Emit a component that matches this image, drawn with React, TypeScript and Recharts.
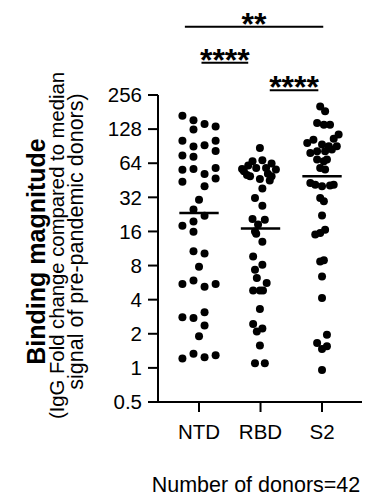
import React from 'react';
import { ScatterChart, Scatter, XAxis, YAxis, ReferenceLine } from 'recharts';

const categories = ['NTD', 'RBD', 'S2'];
const yTicks = [0.5, 1, 2, 4, 8, 16, 32, 64, 128, 256];

// [jitter offset, value]
const ntdPoints: [number, number][] = [
  [-0.27, 168], [-0.09, 153], [0.09, 142], [0.27, 135], [-0.09, 127], [-0.27, 101], [0.27, 101],
  [-0.09, 90], [0.09, 92], [0.27, 82], [-0.27, 75], [-0.09, 73], [-0.27, 56], [-0.09, 57],
  [0.27, 58], [0.09, 51.5], [0.27, 47], [-0.27, 44], [0.09, 40], [0, 30.5], [-0.09, 25],
  [0.09, 22], [-0.27, 18], [-0.09, 19.6], [-0.09, 15.9], [-0.09, 10.7], [0.09, 10.2], [0, 7.8],
  [-0.09, 5.9], [-0.27, 5.5], [0.09, 5.2], [0.27, 5.5], [-0.27, 2.8], [-0.09, 2.76], [0.09, 3.1],
  [0.09, 2.37], [0, 1.9], [-0.27, 1.21], [-0.09, 1.33], [0.09, 1.24], [0.27, 1.29],
];

const rbdPoints: [number, number][] = [
  [-0.01, 87.4], [-0.13, 66.5], [0.03, 67.9], [0.18, 63.5], [-0.27, 54.3], [-0.07, 58.2], [0.25, 56.2],
  [-0.17, 49], [-0.01, 46.5], [0.18, 49], [-0.2, 61], [0.12, 51.8], [-0.3, 57], [-0.22, 50.5],
  [0.09, 58], [0.15, 45], [0.03, 38.2], [-0.09, 31.6], [0.03, 27], [-0.13, 20.6], [0.07, 20.3],
  [-0.04, 18.4], [-0.09, 16], [-0.07, 15.3], [0.03, 13], [-0.12, 9.6], [0.03, 8.15], [-0.09, 7.36],
  [-0.06, 6.2], [0.1, 5.6], [-0.12, 4.83], [-0.01, 4.83], [0.04, 4.83], [-0.01, 3.31], [-0.12, 2.44],
  [0.03, 2.23], [-0.06, 2.1], [-0.01, 1.58], [-0.09, 1.1], [0.07, 1.1],
];

const s2Points: [number, number][] = [
  [-0.03, 203], [0.05, 184], [-0.08, 145], [0.03, 140], [0.13, 140], [0.27, 114.5], [0.19, 105],
  [-0.24, 96.7], [-0.14, 103], [0, 93.4], [0.11, 90.3], [0.24, 90.3], [0.16, 84.4], [-0.19, 78.9],
  [-0.08, 81.5], [0.05, 81.5], [-0.08, 68.9], [0.03, 66.5], [0.08, 68.9], [-0.03, 58.2], [0.05, 56.2],
  [-0.19, 42.9], [-0.11, 41.4], [0, 40], [0.13, 40.6], [0.19, 41.4], [-0.03, 31.6], [0.03, 29.5],
  [0, 22.1], [-0.11, 15], [-0.03, 15.5], [0.05, 16.6], [-0.03, 8.7], [0.03, 8.9], [0, 6.4],
  [0, 4.14], [0.08, 1.96], [-0.08, 1.66], [0, 1.47], [0.08, 1.55], [0, 0.96],
];

const medians = [23.3, 17, 49];
const medianHalfWidth = 0.32;

const brackets = [
  { from: 0.77, to: 3.02, level: 1024, text: '**' },
  { from: 1.04, to: 1.8, level: 492, text: '****' },
  { from: 2.15, to: 2.94, level: 282, text: '****' },
];

const groups = [ntdPoints, rbdPoints, s2Points];
const FONT = '"Liberation Sans", Arial, sans-serif';

const Dot = (props: any) => {
  const { cx, cy } = props;
  if (cx == null || cy == null) return null;
  return <circle cx={cx} cy={cy} r={4} fill="#000" />;
};

const YLabel = (props: any) => {
  const vb = props.viewBox || {};
  const cy = (vb.y ?? 95) + (vb.height ?? 307) / 2;
  return (
    <g fontFamily={FONT} fill="#000">
      <text transform={`translate(36, ${cy + 3}) rotate(-90)`} textAnchor="middle" dominantBaseline="central" fontWeight="bold" fontSize={25}>
        Binding magnitude
      </text>
      <text transform={`translate(57, ${cy - 3}) rotate(-90)`} textAnchor="middle" dominantBaseline="central" fontSize={20.3}>
        (IgG Fold change compared to median
      </text>
      <text transform={`translate(76, ${cy - 7}) rotate(-90)`} textAnchor="middle" dominantBaseline="central" fontSize={21.5}>
        signal of pre-pandemic donors)
      </text>
    </g>
  );
};

const XLabel = (props: any) => {
  const vb = props.viewBox || {};
  const cx = (vb.x ?? 158) + (vb.width ?? 204) / 2;
  const y = (vb.y ?? 402) + 90;
  return (
    <text x={cx - 4} y={y} textAnchor="middle" fontFamily={FONT} fontSize={21.5} fill="#000">
      Number of donors=42
    </text>
  );
};

const StarLabel = (text: string) => (props: any) => {
  const vb = props.viewBox || {};
  const cx = (vb.x ?? 0) + (vb.width ?? 0) / 2;
  const y = vb.y ?? 0;
  return (
    <text x={cx} y={y + 8} textAnchor="middle" fontFamily={FONT} fontWeight="bold" fontSize={32} fill="#000">
      {text}
    </text>
  );
};

export default function App() {
  return (
    <div style={{ position: 'absolute', left: 0, top: 0, width: 373, height: 498, background: '#fff' }}>
      <ScatterChart width={373} height={498} margin={{ top: 95, right: 11, left: 0, bottom: 0 }} style={{ fontFamily: FONT }}>
        <XAxis
          type="number"
          dataKey="x"
          domain={[0.333, 3.65]}
          allowDataOverflow
          ticks={[1, 2, 3]}
          tickFormatter={(v: number) => categories[Math.round(v) - 1] ?? ''}
          height={96}
          axisLine={{ stroke: '#000', strokeWidth: 2 }}
          tickLine={{ stroke: '#000', strokeWidth: 2 }}
          tickSize={10}
          tickMargin={12}
          tick={{ fill: '#000', fontSize: 20.5, fontFamily: FONT }}
          label={{ content: XLabel } as any}
        />
        <YAxis
          type="number"
          dataKey="y"
          scale="log"
          domain={[0.5, 256]}
          allowDataOverflow
          ticks={yTicks}
          tickFormatter={(v: number) => String(v)}
          width={158}
          axisLine={{ stroke: '#000', strokeWidth: 2 }}
          tickLine={{ stroke: '#000', strokeWidth: 2 }}
          tickSize={10}
          tickMargin={6}
          tick={{ fill: '#000', fontSize: 20.5, fontFamily: FONT }}
          label={{ content: YLabel } as any}
        />
        {groups.map((pts, i) => (
          <Scatter
            key={categories[i]}
            name={categories[i]}
            data={pts.map(([o, v]) => ({ x: i + 1 + o, y: v }))}
            shape={Dot}
            isAnimationActive={false}
          />
        ))}
        {medians.map((m, i) => (
          <ReferenceLine
            key={'m' + i}
            segment={[{ x: i + 1 - medianHalfWidth, y: m }, { x: i + 1 + medianHalfWidth, y: m }]}
            stroke="#000"
            strokeWidth={2.5}
          />
        ))}
        {brackets.map((b, i) => (
          <ReferenceLine
            key={'b' + i}
            segment={[{ x: b.from, y: b.level }, { x: b.to, y: b.level }]}
            stroke="#000"
            strokeWidth={2}
            ifOverflow="visible"
            label={{ content: StarLabel(b.text) } as any}
          />
        ))}
      </ScatterChart>
    </div>
  );
}
